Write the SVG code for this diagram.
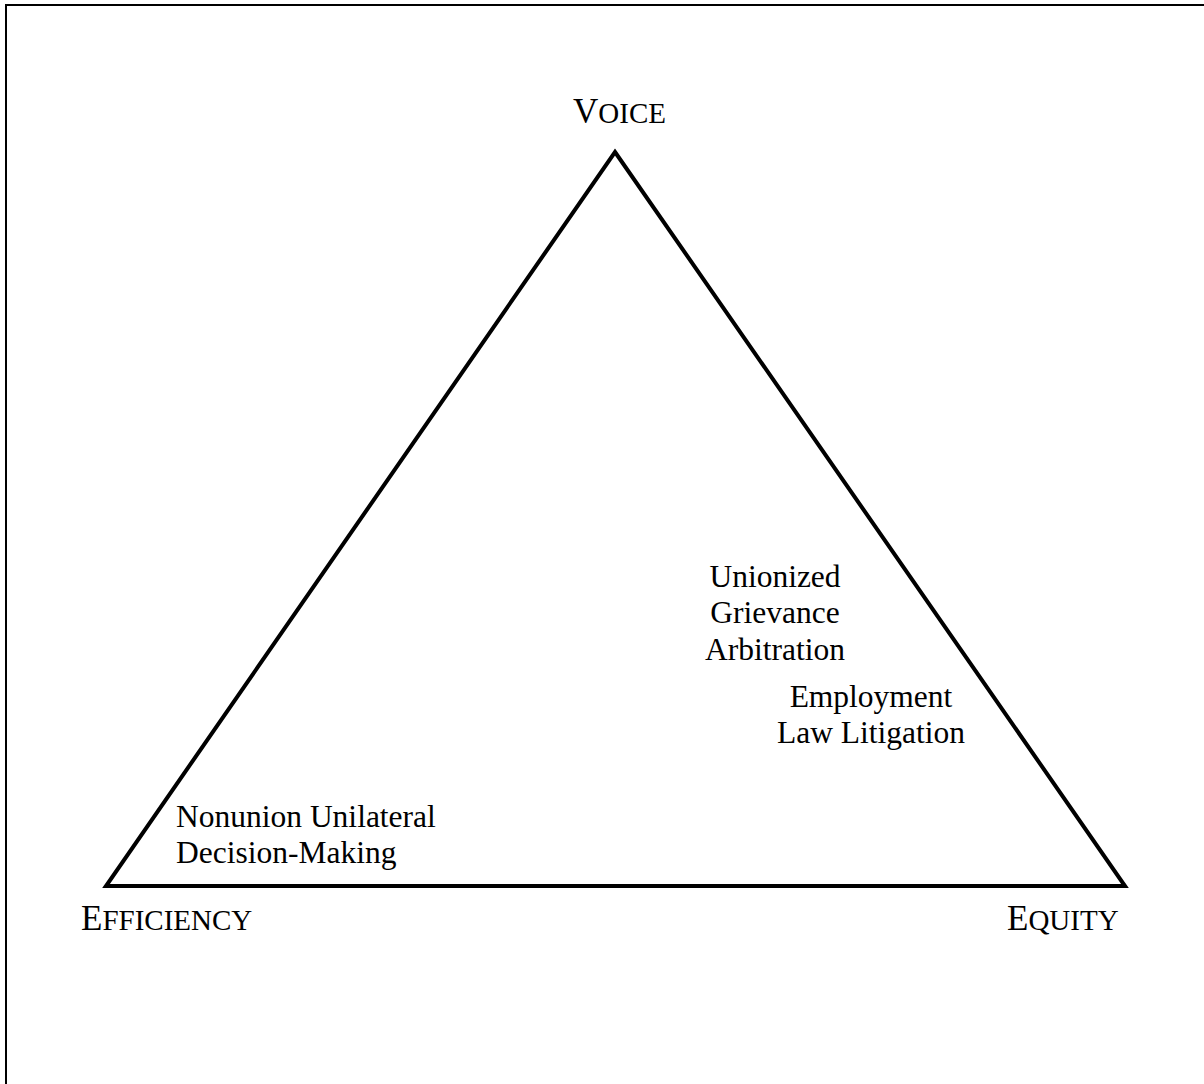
<svg xmlns="http://www.w3.org/2000/svg" width="1204" height="1084" viewBox="0 0 1204 1084">
<style>
text{font-family:"Liberation Serif","Times New Roman",serif;fill:#000}
.lbl{font-size:31.5px}
.big{font-size:35px}
.sc{font-size:29px}
.edge{fill:none;stroke:#000;stroke-width:4;stroke-linejoin:miter}
</style>
<rect x="6" y="5" width="1220" height="1100" fill="#fff" stroke="#000" stroke-width="2"/>
<g id="connectors">
<polygon class="edge" points="615,152 1125,886 106,886"/>
</g>
<g id="voice"><text x="573" y="123"><tspan class="big">V</tspan><tspan class="sc">OICE</tspan></text></g>
<g id="efficiency"><text x="81" y="930"><tspan class="big">E</tspan><tspan class="sc">FFICIENCY</tspan></text></g>
<g id="equity"><text x="1007" y="930"><tspan class="big">E</tspan><tspan class="sc">QUITY</tspan></text></g>
<g id="union"><text class="lbl" text-anchor="middle"><tspan x="775" y="587">Unionized</tspan><tspan x="775" y="623">Grievance</tspan><tspan x="775" y="660">Arbitration</tspan></text></g>
<g id="employment"><text class="lbl" text-anchor="middle"><tspan x="871" y="707">Employment</tspan><tspan x="871" y="743">Law Litigation</tspan></text></g>
<g id="nonunion"><text class="lbl"><tspan x="176" y="827">Nonunion Unilateral</tspan><tspan x="176" y="863">Decision-Making</tspan></text></g>
</svg>
